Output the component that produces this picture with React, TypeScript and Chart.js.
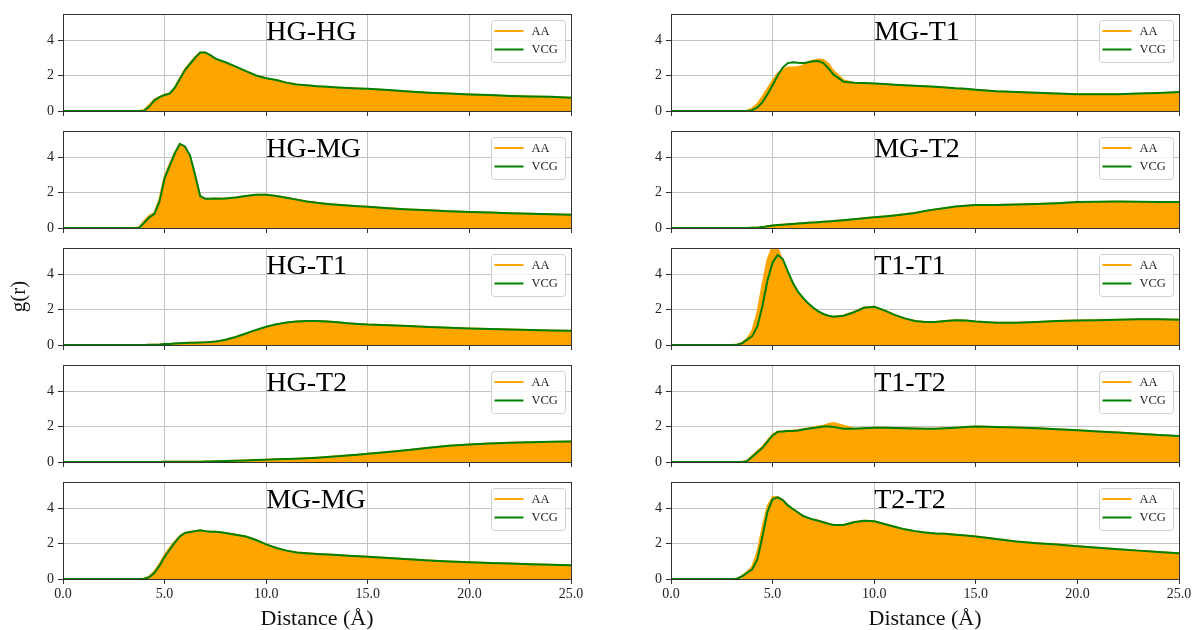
import React, { useEffect, useRef } from "react";
import { Chart, registerables } from "chart.js";

Chart.register(...registerables);

// ---------------- data ----------------
const distance = [
  0, 1, 2, 3, 3.25, 3.5, 3.75,
  4, 4.25, 4.5, 4.75, 5, 5.25, 5.5, 5.75,
  6, 6.25, 6.5, 6.75, 7, 7.25, 7.5, 7.75,
  8, 8.5, 9, 9.5, 10, 10.5, 11, 11.5,
  12, 12.5, 13, 13.5, 14, 14.5, 15,
  16, 17, 18, 19, 20, 21, 22, 23, 24, 25,
];

const seriesLabels = ["AA", "VCG"];
const panelTitles = ["HG-HG", "HG-MG", "HG-T1", "HG-T2", "MG-MG", "MG-T1", "MG-T2", "T1-T1", "T1-T2", "T2-T2"];
const xTickValues = [0, 5, 10, 15, 20, 25];
const yTickValues = [0, 2, 4];
const xAxisTitle = "Distance (Å)";
const yAxisTitle = "g(r)";

const hgHgAA = [
  0, 0, 0, 0, 0, 0, 0,
  0.06, 0.35, 0.65, 0.8, 0.92, 1.0, 1.32, 1.85,
  2.35, 2.7, 3.05, 3.3, 3.28, 3.12, 2.95, 2.83,
  2.73, 2.48, 2.24, 2.0, 1.84, 1.73, 1.6, 1.5,
  1.44, 1.39, 1.36, 1.33, 1.29, 1.27, 1.24,
  1.17, 1.1, 1.03, 0.97, 0.93, 0.89, 0.85, 0.82, 0.79, 0.75,
];
const hgHgVCG = [
  0, 0, 0, 0, 0, 0, 0,
  0.02, 0.25, 0.6, 0.78, 0.9, 0.98, 1.3, 1.8,
  2.3, 2.65, 3.0, 3.3, 3.3, 3.15, 2.95, 2.85,
  2.75, 2.5, 2.25, 2.0, 1.85, 1.75, 1.6, 1.5,
  1.45, 1.4, 1.37, 1.33, 1.3, 1.27, 1.25,
  1.18, 1.1, 1.03, 0.98, 0.93, 0.9, 0.85, 0.82, 0.8, 0.75,
];

const hgMgAA = [
  0, 0, 0, 0, 0, 0, 0.05,
  0.4, 0.7, 0.85, 1.65, 2.9, 3.6, 4.25, 4.7,
  4.55, 4.0, 2.9, 1.78, 1.64, 1.65, 1.66, 1.66,
  1.67, 1.72, 1.8, 1.87, 1.87, 1.8, 1.7, 1.6,
  1.5, 1.42, 1.36, 1.31, 1.27, 1.23, 1.2,
  1.12, 1.05, 1.0, 0.95, 0.9, 0.87, 0.83, 0.8, 0.78, 0.75,
];
const hgMgVCG = [
  0, 0, 0, 0, 0, 0, 0.02,
  0.3, 0.6, 0.8, 1.5, 2.8, 3.5, 4.2, 4.75,
  4.6, 4.1, 3.0, 1.8, 1.65, 1.65, 1.66, 1.65,
  1.66, 1.72, 1.8, 1.88, 1.88, 1.8, 1.7, 1.6,
  1.5, 1.42, 1.36, 1.31, 1.27, 1.23, 1.2,
  1.12, 1.05, 1.0, 0.95, 0.9, 0.87, 0.83, 0.8, 0.78, 0.75,
];

const hgT1AA = [
  0, 0, 0, 0, 0, 0, 0,
  0, 0.01, 0.02, 0.03, 0.05, 0.06, 0.08, 0.1,
  0.11, 0.12, 0.13, 0.14, 0.15, 0.17, 0.2, 0.24,
  0.3, 0.45, 0.64, 0.84, 1.02, 1.16, 1.26, 1.32,
  1.34, 1.34, 1.32, 1.28, 1.23, 1.19, 1.15,
  1.11, 1.07, 1.01, 0.97, 0.93, 0.9, 0.87, 0.84, 0.82, 0.79,
];
const hgT1VCG = [
  0, 0, 0, 0, 0, 0, 0,
  0, 0.01, 0.02, 0.03, 0.05, 0.06, 0.08, 0.1,
  0.11, 0.12, 0.13, 0.14, 0.15, 0.17, 0.2, 0.24,
  0.3, 0.45, 0.65, 0.85, 1.03, 1.17, 1.27, 1.32,
  1.35, 1.35, 1.32, 1.28, 1.23, 1.19, 1.15,
  1.12, 1.07, 1.01, 0.97, 0.93, 0.9, 0.87, 0.84, 0.82, 0.8,
];

const hgT2AA = [
  0, 0, 0, 0, 0, 0, 0,
  0, 0, 0, 0, 0.01, 0.01, 0.01, 0.01,
  0.02, 0.02, 0.02, 0.02, 0.03, 0.03, 0.04, 0.04,
  0.05, 0.07, 0.09, 0.11, 0.13, 0.15, 0.17, 0.19,
  0.21, 0.24, 0.28, 0.32, 0.36, 0.41, 0.46,
  0.56, 0.68, 0.8, 0.91, 0.99, 1.04, 1.08, 1.11, 1.13, 1.15,
];
const hgT2VCG = [
  0, 0, 0, 0, 0, 0, 0,
  0, 0, 0, 0, 0.01, 0.01, 0.01, 0.01,
  0.02, 0.02, 0.02, 0.02, 0.03, 0.03, 0.04, 0.04,
  0.05, 0.07, 0.09, 0.11, 0.13, 0.15, 0.17, 0.19,
  0.21, 0.24, 0.28, 0.32, 0.37, 0.41, 0.46,
  0.56, 0.68, 0.81, 0.92, 0.99, 1.04, 1.08, 1.11, 1.14, 1.16,
];

const mgMgAA = [
  0, 0, 0, 0, 0, 0, 0,
  0.03, 0.15, 0.42, 0.85, 1.35, 1.75, 2.1, 2.42,
  2.6, 2.66, 2.7, 2.74, 2.7, 2.67, 2.66, 2.63,
  2.6, 2.5, 2.4, 2.2, 1.95, 1.75, 1.6, 1.5,
  1.45, 1.41, 1.38, 1.35, 1.31, 1.28, 1.25,
  1.18, 1.11, 1.05, 0.99, 0.95, 0.9, 0.87, 0.83, 0.8, 0.78,
];
const mgMgVCG = [
  0, 0, 0, 0, 0, 0, 0,
  0.01, 0.1, 0.35, 0.75, 1.25, 1.65, 2.05, 2.4,
  2.6, 2.65, 2.7, 2.75, 2.7, 2.67, 2.66, 2.63,
  2.6, 2.5, 2.4, 2.2, 1.95, 1.75, 1.6, 1.5,
  1.45, 1.41, 1.38, 1.35, 1.31, 1.28, 1.25,
  1.18, 1.11, 1.05, 0.99, 0.95, 0.9, 0.87, 0.83, 0.8, 0.78,
];

const mgT1AA = [
  0, 0, 0, 0, 0, 0, 0.02,
  0.15, 0.4, 0.8, 1.25, 1.7, 2.1, 2.35, 2.45,
  2.45, 2.48, 2.55, 2.75, 2.85, 2.9, 2.88, 2.65,
  2.25, 1.72, 1.6, 1.57, 1.54, 1.51, 1.47, 1.44,
  1.41, 1.39, 1.36, 1.32, 1.27, 1.24, 1.19,
  1.11, 1.06, 1.02, 0.97, 0.94, 0.94, 0.94, 0.97, 1.0, 1.04,
];
const mgT1VCG = [
  0, 0, 0, 0, 0, 0, 0,
  0.05, 0.2, 0.5, 0.95, 1.45, 2.0, 2.45, 2.7,
  2.75, 2.72, 2.7, 2.75, 2.8, 2.82, 2.7, 2.4,
  2.05, 1.65, 1.6, 1.58, 1.55, 1.52, 1.48, 1.45,
  1.42, 1.4, 1.37, 1.33, 1.28, 1.25, 1.2,
  1.12, 1.07, 1.03, 0.98, 0.95, 0.95, 0.95, 0.98, 1.02, 1.07,
];

const mgT2AA = [
  0, 0, 0, 0, 0, 0, 0,
  0.01, 0.02, 0.05, 0.1, 0.14, 0.17, 0.19, 0.21,
  0.23, 0.25, 0.27, 0.29, 0.31, 0.33, 0.35, 0.37,
  0.39, 0.44, 0.49, 0.55, 0.6, 0.65, 0.71, 0.77,
  0.85, 0.95, 1.04, 1.12, 1.2, 1.25, 1.28,
  1.3, 1.32, 1.36, 1.4, 1.45, 1.47, 1.48, 1.47, 1.45, 1.44,
];
const mgT2VCG = [
  0, 0, 0, 0, 0, 0, 0,
  0.01, 0.02, 0.05, 0.1, 0.14, 0.17, 0.19, 0.21,
  0.23, 0.25, 0.27, 0.29, 0.31, 0.33, 0.35, 0.37,
  0.39, 0.44, 0.49, 0.55, 0.6, 0.65, 0.71, 0.77,
  0.85, 0.96, 1.05, 1.13, 1.21, 1.26, 1.29,
  1.3, 1.32, 1.36, 1.4, 1.46, 1.48, 1.49, 1.48, 1.46, 1.46,
];

const t1T1AA = [
  0, 0, 0, 0, 0.03, 0.12, 0.35,
  0.8, 1.8, 3.4, 4.8, 5.55, 5.45, 4.7, 4.0,
  3.45, 2.98, 2.63, 2.33, 2.08, 1.88, 1.74, 1.64,
  1.6, 1.66, 1.87, 2.12, 2.16, 1.95, 1.7, 1.5,
  1.35, 1.3, 1.3, 1.35, 1.4, 1.38, 1.32,
  1.25, 1.25, 1.3, 1.35, 1.38, 1.4, 1.42, 1.45, 1.45, 1.42,
];
const t1T1VCG = [
  0, 0, 0, 0, 0.02, 0.1, 0.3,
  0.5, 1.05, 2.2, 3.65, 4.65, 5.08, 4.85, 4.15,
  3.5, 3.0, 2.65, 2.35, 2.1, 1.9, 1.75, 1.65,
  1.6, 1.65, 1.85, 2.1, 2.15, 1.95, 1.7, 1.5,
  1.35, 1.3, 1.3, 1.35, 1.4, 1.38, 1.32,
  1.25, 1.25, 1.3, 1.35, 1.38, 1.4, 1.42, 1.45, 1.45, 1.42,
];

const t1T2AA = [
  0, 0, 0, 0, 0, 0, 0.08,
  0.35, 0.6, 0.85, 1.22, 1.55, 1.72, 1.74, 1.76,
  1.77, 1.8, 1.85, 1.9, 1.95, 2.0, 2.05, 2.15,
  2.2, 2.05, 1.88, 1.9, 1.93, 1.93, 1.92, 1.9,
  1.89, 1.88, 1.88, 1.9, 1.93, 1.97, 2.0,
  1.98, 1.94, 1.9, 1.85, 1.79, 1.72, 1.66, 1.6, 1.52, 1.45,
];
const t1T2VCG = [
  0, 0, 0, 0, 0, 0, 0.05,
  0.3, 0.55, 0.8, 1.15, 1.5, 1.7, 1.72, 1.75,
  1.75, 1.78, 1.83, 1.87, 1.92, 1.96, 2.0, 2.0,
  1.98, 1.88, 1.87, 1.9, 1.93, 1.93, 1.92, 1.9,
  1.89, 1.88, 1.88, 1.9, 1.93, 1.97, 2.0,
  1.98, 1.94, 1.9, 1.85, 1.79, 1.72, 1.66, 1.6, 1.52, 1.46,
];

const t2T2AA = [
  0, 0, 0, 0, 0.03, 0.18, 0.4,
  0.7, 1.5, 2.9, 4.1, 4.62, 4.62, 4.45, 4.15,
  3.95, 3.75, 3.56, 3.45, 3.35, 3.28, 3.2, 3.12,
  3.05, 3.06, 3.21, 3.29, 3.26, 3.1, 2.95, 2.8,
  2.7, 2.62, 2.56, 2.55, 2.5, 2.45, 2.39,
  2.25, 2.12, 2.02, 1.94, 1.85, 1.76, 1.68, 1.6, 1.52, 1.44,
];
const t2T2VCG = [
  0, 0, 0, 0, 0.02, 0.15, 0.35,
  0.55, 1.1, 2.4, 3.8, 4.5, 4.6, 4.45, 4.15,
  3.95, 3.75, 3.55, 3.45, 3.35, 3.28, 3.2, 3.12,
  3.05, 3.05, 3.2, 3.28, 3.25, 3.1, 2.95, 2.8,
  2.7, 2.62, 2.56, 2.55, 2.5, 2.45, 2.4,
  2.25, 2.12, 2.02, 1.94, 1.85, 1.76, 1.68, 1.6, 1.52, 1.45,
];

const panelSeries = [
  [hgHgAA, hgHgVCG],
  [hgMgAA, hgMgVCG],
  [hgT1AA, hgT1VCG],
  [hgT2AA, hgT2VCG],
  [mgMgAA, mgMgVCG],
  [mgT1AA, mgT1VCG],
  [mgT2AA, mgT2VCG],
  [t1T1AA, t1T1VCG],
  [t1T2AA, t1T2VCG],
  [t2T2AA, t2T2VCG],
];

// ---------------- style ----------------
const SERIF = '"Liberation Serif", "Times New Roman", Times, serif';
const ORANGE = "#FFA500";
const GREEN = "#008000";
const GRID = "#c4c4c4";
const AXIS = "#333333";
const TEXT = "#222222";
const Y_MAX = 5.47;
const TITLE_X_VALUE = 10;

const COL_LEFT = [63, 671];
const COL_RIGHT = [571, 1179];
const ROW_TOP0 = 14;
const ROW_PITCH = 117.1;
const PLOT_H = 97;
const AXIS_W = 63;
const PAD_TOP = 10;

type PanelProps = { index: number };

function Panel({ index }: PanelProps) {
  const ref = useRef<HTMLCanvasElement | null>(null);
  const col = index < 5 ? 0 : 1;
  const row = index % 5;
  const isBottom = row === 4;
  const showYTitle = col === 0 && row === 2;
  const plotLeft = COL_LEFT[col];
  const plotRight = COL_RIGHT[col];
  const plotTop = Math.round(ROW_TOP0 + ROW_PITCH * row);
  const xAxisH = isBottom ? 51 : 6;
  const padRight = col === 0 ? 20 : 14;
  const canvasLeft = plotLeft - AXIS_W;
  const canvasTop = plotTop - PAD_TOP;
  const canvasW = plotRight - plotLeft + AXIS_W + padRight;
  const canvasH = PAD_TOP + PLOT_H + xAxisH;

  useEffect(() => {
    const canvas = ref.current;
    if (!canvas) return;
    const title = panelTitles[index];
    const [aa, vcg] = panelSeries[index];

    const decor = {
      id: "decor" + index,
      afterDatasetsDraw(chart: any) {
        const { ctx, chartArea: a, scales } = chart;
        ctx.save();
        // panel title
        ctx.font = `28px ${SERIF}`;
        ctx.fillStyle = "#000";
        ctx.textAlign = "left";
        ctx.textBaseline = "alphabetic";
        ctx.fillText(title, scales.x.getPixelForValue(TITLE_X_VALUE), a.top + 26);

        // legend box
        const bw = 74;
        const bh = 42;
        const bx = Math.round(a.right - 6 - bw) + 0.5;
        const by = Math.round(a.top + 6) + 0.5;
        const r = 3;
        ctx.beginPath();
        ctx.moveTo(bx + r, by);
        ctx.lineTo(bx + bw - r, by);
        ctx.arcTo(bx + bw, by, bx + bw, by + r, r);
        ctx.lineTo(bx + bw, by + bh - r);
        ctx.arcTo(bx + bw, by + bh, bx + bw - r, by + bh, r);
        ctx.lineTo(bx + r, by + bh);
        ctx.arcTo(bx, by + bh, bx, by + bh - r, r);
        ctx.lineTo(bx, by + r);
        ctx.arcTo(bx, by, bx + r, by, r);
        ctx.closePath();
        ctx.fillStyle = "rgba(255,255,255,0.8)";
        ctx.fill();
        ctx.strokeStyle = "#d0d0d0";
        ctx.lineWidth = 1;
        ctx.stroke();

        chart.data.datasets.forEach((ds: any, i: number) => {
          const y = by + 10.5 + i * 18.5;
          ctx.beginPath();
          ctx.strokeStyle = ds.borderColor;
          ctx.lineWidth = 2;
          ctx.moveTo(bx + 3, y);
          ctx.lineTo(bx + 32, y);
          ctx.stroke();
          ctx.font = `12.5px ${SERIF}`;
          ctx.fillStyle = TEXT;
          ctx.textBaseline = "middle";
          ctx.fillText(ds.label, bx + 40, y + 0.5);
        });

        // frame (all four spines)
        const x1 = Math.round(a.left - 0.5) + 0.5;
        const x2 = Math.round(a.right - 0.5) + 0.5;
        const y1 = Math.round(a.top - 0.5) + 0.5;
        const y2 = Math.round(a.bottom - 0.5) + 0.5;
        ctx.strokeStyle = AXIS;
        ctx.lineWidth = 1;
        ctx.strokeRect(x1, y1, x2 - x1, y2 - y1);
        ctx.restore();
      },
    };

    const chart = new Chart(canvas, {
      type: "line",
      data: {
        datasets: [
          {
            label: seriesLabels[0],
            data: distance.map((x, i) => ({ x, y: aa[i] })),
            borderColor: ORANGE,
            backgroundColor: ORANGE,
            borderWidth: 2,
            fill: "origin",
            pointRadius: 0,
            tension: 0,
            order: 2,
          },
          {
            label: seriesLabels[1],
            data: distance.map((x, i) => ({ x, y: vcg[i] })),
            borderColor: GREEN,
            backgroundColor: GREEN,
            borderWidth: 2,
            fill: false,
            pointRadius: 0,
            tension: 0,
            order: 1,
          },
        ],
      },
      options: {
        responsive: false,
        maintainAspectRatio: false,
        animation: false,
        events: [],
        layout: { padding: { top: PAD_TOP, left: 0, right: padRight, bottom: 0 } },
        plugins: {
          legend: { display: false },
          tooltip: { enabled: false },
          title: { display: false },
        },
        scales: {
          x: {
            type: "linear",
            min: xTickValues[0],
            max: xTickValues[xTickValues.length - 1],
            afterBuildTicks: (s: any) => {
              s.ticks = xTickValues.map((v) => ({ value: v }));
            },
            afterFit: (s: any) => {
              s.height = xAxisH;
              s.paddingLeft = 0;
              s.paddingRight = 0;
            },
            ticks: {
              display: isBottom,
              autoSkip: false,
              maxRotation: 0,
              minRotation: 0,
              padding: 2,
              color: TEXT,
              font: { family: SERIF, size: 14 },
              callback: (v: any) => Number(v).toFixed(1),
            },
            grid: {
              color: GRID,
              lineWidth: 1,
              drawTicks: true,
              tickLength: 5,
              tickColor: AXIS,
              tickWidth: 1,
            },
            border: { display: false },
            title: {
              display: isBottom,
              text: xAxisTitle,
              color: "#111",
              font: { family: SERIF, size: 22, lineHeight: 1 },
              padding: 0,
            },
          },
          y: {
            type: "linear",
            min: 0,
            max: Y_MAX,
            afterBuildTicks: (s: any) => {
              s.ticks = yTickValues.map((v) => ({ value: v }));
            },
            afterFit: (s: any) => {
              s.width = AXIS_W;
              s.paddingTop = 0;
              s.paddingBottom = 0;
            },
            ticks: {
              padding: 4,
              color: TEXT,
              font: { family: SERIF, size: 14 },
              callback: (v: any) => String(v),
            },
            grid: {
              color: GRID,
              lineWidth: 1,
              drawTicks: true,
              tickLength: 5,
              tickColor: AXIS,
              tickWidth: 1,
            },
            border: { display: false },
            title: {
              display: showYTitle,
              text: yAxisTitle,
              color: "#111",
              font: { family: SERIF, size: 21, lineHeight: 1 },
              padding: { top: 9, bottom: 0 },
            },
          },
        },
      } as any,
      plugins: [decor],
    });
    return () => chart.destroy();
  }, [index]);

  return (
    <div
      style={{
        position: "absolute",
        left: canvasLeft,
        top: canvasTop,
        width: canvasW,
        height: canvasH,
      }}
    >
      <canvas
        ref={ref}
        width={canvasW}
        height={canvasH}
        style={{ width: canvasW, height: canvasH, display: "block" }}
      />
    </div>
  );
}

export default function App() {
  return (
    <div
      style={{
        position: "fixed",
        left: 0,
        top: 0,
        width: 1193,
        height: 630,
        overflow: "hidden",
        background: "#ffffff",
      }}
    >
      {panelTitles.map((_, i) => (
        <Panel key={i} index={i} />
      ))}
    </div>
  );
}
